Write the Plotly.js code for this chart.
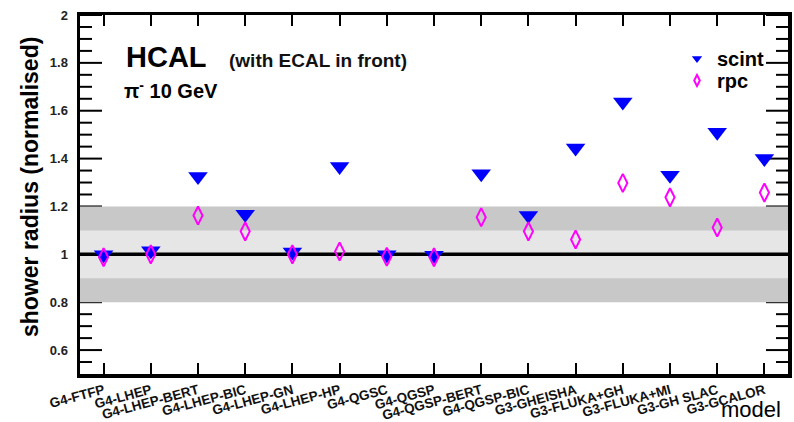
<!DOCTYPE html>
<html>
<head>
<meta charset="utf-8">
<script src="https://cdn.plot.ly/plotly-3.0.1.min.js"></script>
<style>html,body{margin:0;padding:0;background:#fff;}#chart{width:794px;height:422px;}</style>
</head>
<body>
<div id="chart"></div>
<script>
const models = ["G4-FTFP","G4-LHEP","G4-LHEP-BERT","G4-LHEP-BIC","G4-LHEP-GN","G4-LHEP-HP","G4-QGSC","G4-QGSP","G4-QGSP-BERT","G4-QGSP-BIC","G3-GHEISHA","G3-FLUKA+GH","G3-FLUKA+MI","G3-GH SLAC","G3-GCALOR"];
const scint = [0.998, 1.015, 1.325, 1.167, 1.01, 1.367, 0.998, 0.996, 1.337, 1.162, 1.444, 1.637, 1.33, 1.51, 1.40];
const rpc   = [0.988, 1.0, 1.162, 1.096, 1.0, 1.012, 0.99, 0.988, 1.155, 1.096, 1.062, 1.298, 1.238, 1.112, 1.258];
const bandOuter = [0.8, 1.2];
const bandInner = [0.9, 1.1];
const refLine = 1.0;
const yMajorTicks = [0.6, 0.8, 1, 1.2, 1.4, 1.6, 1.8, 2];
const yMinorTicks = [0.55, 0.65, 0.7, 0.75, 0.85, 0.9, 0.95, 1.05, 1.1, 1.15, 1.25, 1.3, 1.35, 1.45, 1.5, 1.55, 1.65, 1.7, 1.75, 1.85, 1.9, 1.95];

const FONT = "Liberation Sans, Arial, Helvetica, sans-serif";

const traces = [
  {x: models, y: scint, type: "scatter", mode: "markers", name: "scint", showlegend: false,
   marker: {symbol: "triangle-down", size: 17, color: "#0000ff", line: {width: 0}}},
  {x: models, y: rpc, type: "scatter", mode: "markers", name: "rpc", showlegend: false,
   marker: {symbol: "diamond-tall-open", size: 13, color: "#ff00ff", line: {width: 2, color: "#ff00ff"}}},
  // legend-only entries (no points drawn)
  {x: [null], y: [null], type: "scatter", mode: "markers", name: "scint", legend: "legend",
   marker: {symbol: "triangle-down", size: 9, color: "#0000ff", line: {width: 0}}},
  {x: [null], y: [null], type: "scatter", mode: "markers", name: "rpc", legend: "legend2",
   marker: {symbol: "diamond-tall-open", size: 8, color: "#ff00ff", line: {width: 2, color: "#ff00ff"}}}
];

const L = 80, R = 6, T = 15, B = 48, W = 794, H = 422;
const pw = W - L - R, ph = H - T - B;
const px = v => (v - L) / pw;
const py = v => (H - B - v) / ph;

// y-axis tick marks as shapes in paper units (left and right frame)
const tickStyle = {color: "#000", width: 2};
const majLen = 22 / pw, minLen = 12 / pw;
const tickShapes = [];
yMajorTicks.forEach(v => {
  tickShapes.push({type: "line", yref: "y", y0: v, y1: v, xref: "paper", x0: 0, x1: majLen, line: tickStyle, layer: "below"});
  tickShapes.push({type: "line", yref: "y", y0: v, y1: v, xref: "paper", x0: 1 - majLen, x1: 1, line: tickStyle, layer: "below"});
});
yMinorTicks.forEach(v => {
  tickShapes.push({type: "line", yref: "y", y0: v, y1: v, xref: "paper", x0: 0, x1: minLen, line: tickStyle, layer: "below"});
  tickShapes.push({type: "line", yref: "y", y0: v, y1: v, xref: "paper", x0: 1 - minLen, x1: 1, line: tickStyle, layer: "below"});
});

const legendFont = {family: FONT, size: 20, weight: "bold", color: "#000"};

const layout = {
  width: W, height: H,
  margin: {l: L, r: R, t: T, b: B},
  paper_bgcolor: "#fff", plot_bgcolor: "#fff",
  font: {family: FONT, color: "#000"},
  showlegend: true,
  legend: {x: px(677), y: py(39), xanchor: "left", yanchor: "top", font: legendFont,
           bgcolor: "rgba(0,0,0,0)", borderwidth: 0},
  legend2: {x: px(677), y: py(61), xanchor: "left", yanchor: "top", font: legendFont,
           bgcolor: "rgba(0,0,0,0)", borderwidth: 0},
  xaxis: {type: "category", categoryorder: "array", categoryarray: models,
          range: [-0.5, 14.5], showgrid: false, zeroline: false,
          showline: true, linewidth: 3.5, linecolor: "#000", mirror: "ticks",
          ticks: "inside", ticklen: 11, tickwidth: 2, tickcolor: "#000",
          tickangle: -15, tickfont: {family: FONT, size: 13.5, weight: "bold", color: "#111"}},
  yaxis: {range: [0.5, 2], tickmode: "array", tickvals: yMajorTicks, showgrid: false, zeroline: false,
          showline: true, linewidth: 3.5, linecolor: "#000", mirror: true,
          ticks: "", ticklabelstandoff: 6,
          tickfont: {family: FONT, size: 13, weight: "bold", color: "#222"}},
  shapes: tickShapes.concat([
    {type: "rect", xref: "paper", yref: "y", x0: 0, x1: 1, y0: bandOuter[0], y1: bandOuter[1],
     fillcolor: "#c8c8c8", line: {width: 0}, layer: "below"},
    {type: "rect", xref: "paper", yref: "y", x0: 0, x1: 1, y0: bandInner[0], y1: bandInner[1],
     fillcolor: "#e6e6e6", line: {width: 0}, layer: "below"},
    {type: "line", xref: "paper", yref: "y", x0: 0, x1: 1, y0: refLine, y1: refLine,
     line: {color: "#000", width: 3.5}, layer: "below"}
  ]),
  annotations: [
    {text: "HCAL", xref: "paper", yref: "paper", x: px(124), y: py(57), xanchor: "left", yanchor: "middle",
     showarrow: false, font: {family: FONT, size: 29, weight: "bold", color: "#000"}},
    {text: "(with ECAL in front)", xref: "paper", yref: "paper", x: px(227), y: py(61), xanchor: "left", yanchor: "middle",
     showarrow: false, font: {family: FONT, size: 19, weight: "bold", color: "#111"}},
    {text: "π<sup>-</sup> 10 GeV", xref: "paper", yref: "paper", x: px(122), y: py(89), xanchor: "left", yanchor: "middle",
     showarrow: false, font: {family: FONT, size: 20, weight: "bold", color: "#000"}},
    {text: "shower radius (normalised)", xref: "paper", yref: "paper", x: px(30), y: py(187), xanchor: "center", yanchor: "middle",
     textangle: -90, showarrow: false, font: {family: FONT, size: 23, weight: "bold", color: "#000"}},
    {text: "model", xref: "paper", yref: "paper", x: px(783), y: py(409), xanchor: "right", yanchor: "middle",
     showarrow: false, font: {family: FONT, size: 22, color: "#000"}}
  ]
};

Plotly.newPlot("chart", traces, layout, {displayModeBar: false, staticPlot: true});
</script>
</body>
</html>
